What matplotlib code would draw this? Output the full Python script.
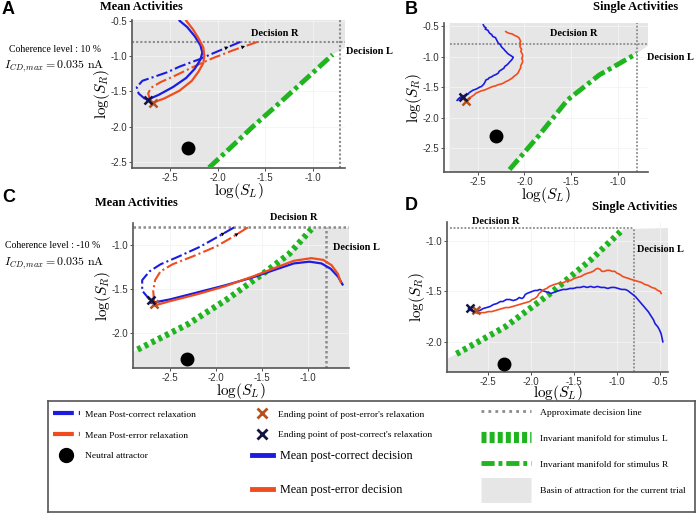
import matplotlib.pyplot as plt
from matplotlib.lines import Line2D
from matplotlib.ticker import FormatStrFormatter

plt.rcParams['font.family'] = ['Liberation Serif', 'DejaVu Serif']
plt.rcParams['mathtext.fontset'] = 'cm'
plt.rcParams['axes.unicode_minus'] = False

W, H = 700, 514

BLUE = '#1c1ce0'
RED = '#f04c1e'
GREEN = '#1fb51f'
BASIN = '#e6e6e6'
DOTGREY = '#8c8c8c'
BROWN_X = '#b4521f'
NAVY_X = '#141440'

# ---- panel A : mean activities, coherence 10 %
a_green = [(-2.09, -2.58), (-1.85, -2.28), (-1.63, -2.0), (-1.32, -1.63), (-1.05, -1.3), (-0.79, -0.98)]
a_correct = [(-2.74, -1.62), (-2.62, -1.55), (-2.47, -1.44), (-2.33, -1.31), (-2.24, -1.18), (-2.18, -1.05),
             (-2.16, -0.95), (-2.18, -0.85), (-2.24, -0.72), (-2.32, -0.59), (-2.4, -0.5)]
a_error = [(-2.7, -1.67), (-2.56, -1.6), (-2.4, -1.49), (-2.27, -1.35), (-2.2, -1.22), (-2.15, -1.1),
           (-2.14, -1.0), (-2.15, -0.88), (-2.2, -0.75), (-2.26, -0.62), (-2.33, -0.5)]
a_relax_correct = [(-1.76, -0.80), (-2.01, -0.94), (-2.2, -1.05), (-2.4, -1.15), (-2.53, -1.23), (-2.68, -1.3),
                   (-2.79, -1.35), (-2.85, -1.44), (-2.83, -1.53), (-2.77, -1.6), (-2.73, -1.62)]
a_relax_error = [(-1.58, -0.80), (-1.84, -0.92), (-2.05, -1.03), (-2.25, -1.15), (-2.45, -1.28), (-2.6, -1.37),
                 (-2.7, -1.45), (-2.73, -1.53), (-2.71, -1.62), (-2.68, -1.66)]
a_end_correct = (-2.73, -1.62)
a_end_error = (-2.68, -1.66)
a_neutral = (-2.31, -2.3)
a_decision_r = -0.8
a_decision_l = -0.71

# ---- panel B : single activities, coherence 10 %
b_green = [(-2.16, -2.85), (-1.85, -2.3), (-1.54, -1.71), (-1.2, -1.3), (-0.8, -0.95)]
b_correct = [(-2.44, -0.48), (-2.43, -0.51), (-2.41, -0.53), (-2.42, -0.55), (-2.39, -0.57), (-2.38, -0.60),
             (-2.37, -0.62), (-2.35, -0.64), (-2.34, -0.67), (-2.31, -0.69), (-2.30, -0.72), (-2.29, -0.75),
             (-2.28, -0.78), (-2.26, -0.80), (-2.25, -0.83), (-2.24, -0.85), (-2.22, -0.88), (-2.21, -0.90),
             (-2.19, -0.93), (-2.18, -0.95), (-2.16, -0.97), (-2.14, -0.99), (-2.12, -1.01), (-2.13, -1.04),
             (-2.14, -1.06), (-2.16, -1.09), (-2.17, -1.11), (-2.19, -1.14), (-2.21, -1.16), (-2.22, -1.19),
             (-2.24, -1.21), (-2.27, -1.24), (-2.28, -1.27), (-2.30, -1.29), (-2.33, -1.31), (-2.35, -1.33),
             (-2.38, -1.35), (-2.39, -1.37), (-2.41, -1.38), (-2.42, -1.41), (-2.43, -1.44), (-2.44, -1.46),
             (-2.46, -1.49), (-2.48, -1.50), (-2.50, -1.52), (-2.53, -1.54), (-2.55, -1.55), (-2.57, -1.57),
             (-2.59, -1.59), (-2.60, -1.61), (-2.63, -1.63), (-2.65, -1.64), (-2.66, -1.66), (-2.69, -1.67),
             (-2.71, -1.70), (-2.72, -1.72), (-2.70, -1.69), (-2.68, -1.67)]
b_error = [(-2.20, -0.59), (-2.18, -0.61), (-2.16, -0.62), (-2.13, -0.63), (-2.11, -0.65), (-2.08, -0.67),
           (-2.06, -0.69), (-2.05, -0.72), (-2.04, -0.75), (-2.05, -0.77), (-2.04, -0.80), (-2.05, -0.83),
           (-2.04, -0.86), (-2.03, -0.88), (-2.04, -0.91), (-2.03, -0.94), (-2.02, -0.97), (-2.02, -1.00),
           (-2.03, -1.03), (-2.02, -1.06), (-2.02, -1.09), (-2.03, -1.12), (-2.04, -1.15), (-2.04, -1.18),
           (-2.05, -1.21), (-2.06, -1.24), (-2.07, -1.27), (-2.09, -1.30), (-2.11, -1.32), (-2.13, -1.35),
           (-2.15, -1.37), (-2.17, -1.39), (-2.20, -1.41), (-2.22, -1.43), (-2.25, -1.45), (-2.28, -1.46),
           (-2.31, -1.48), (-2.34, -1.49), (-2.37, -1.51), (-2.40, -1.53), (-2.43, -1.55), (-2.46, -1.56),
           (-2.49, -1.58), (-2.52, -1.60), (-2.54, -1.63), (-2.56, -1.65), (-2.58, -1.67), (-2.60, -1.69),
           (-2.61, -1.72), (-2.63, -1.74)]
b_end_correct = (-2.66, -1.66)
b_end_error = (-2.62, -1.72)
b_neutral = (-2.3, -2.3)
b_decision_r = -0.8
b_decision_l = -0.8

# ---- panel C : mean activities, coherence -10 %
c_green = [(-2.85, -2.19), (-2.3, -1.9), (-1.88, -1.62), (-1.45, -1.3), (-1.2, -1.1), (-0.96, -0.82)]
c_correct = [(-2.7, -1.66), (-2.5, -1.62), (-2.2, -1.54), (-1.9, -1.46), (-1.6, -1.37), (-1.35, -1.28),
             (-1.15, -1.21), (-0.98, -1.19), (-0.85, -1.21), (-0.75, -1.27), (-0.67, -1.36), (-0.62, -1.45)]
c_error = [(-2.67, -1.69), (-2.5, -1.64), (-2.2, -1.56), (-1.9, -1.47), (-1.6, -1.36), (-1.35, -1.26),
           (-1.15, -1.18), (-0.96, -1.15), (-0.83, -1.17), (-0.74, -1.23), (-0.67, -1.33), (-0.64, -1.42)]
c_relax_correct = [(-1.8, -0.8), (-2.0, -0.92), (-2.17, -1.02), (-2.4, -1.13), (-2.6, -1.22), (-2.72, -1.3),
                   (-2.8, -1.4), (-2.8, -1.52), (-2.72, -1.62)]
c_relax_error = [(-1.65, -0.8), (-1.85, -0.93), (-2.0, -1.02), (-2.25, -1.13), (-2.47, -1.22), (-2.6, -1.3),
                 (-2.66, -1.4), (-2.68, -1.52), (-2.67, -1.66)]
c_end_correct = (-2.7, -1.63)
c_end_error = (-2.67, -1.67)
c_neutral = (-2.31, -2.3)
c_decision_r = -0.8
c_decision_l = -0.8

# ---- panel D : single activities, coherence -10 %
d_green = [(-2.87, -2.12), (-2.3, -1.85), (-1.78, -1.52), (-1.3, -1.18), (-0.93, -0.88)]
d_correct = [(-2.73, -1.67), (-2.70, -1.69), (-2.67, -1.70), (-2.63, -1.69), (-2.60, -1.69), (-2.56, -1.67),
             (-2.52, -1.66), (-2.48, -1.65), (-2.44, -1.63), (-2.40, -1.62), (-2.36, -1.60), (-2.33, -1.60),
             (-2.29, -1.58), (-2.25, -1.58), (-2.21, -1.59), (-2.17, -1.58), (-2.14, -1.56), (-2.11, -1.57),
             (-2.09, -1.56), (-2.07, -1.53), (-2.05, -1.52), (-2.02, -1.51), (-1.99, -1.50), (-1.96, -1.49),
             (-1.93, -1.49), (-1.90, -1.48), (-1.87, -1.49), (-1.84, -1.50), (-1.80, -1.51), (-1.77, -1.52),
             (-1.74, -1.51), (-1.71, -1.50), (-1.67, -1.49), (-1.63, -1.48), (-1.59, -1.48), (-1.55, -1.47),
             (-1.51, -1.47), (-1.47, -1.46), (-1.43, -1.46), (-1.39, -1.45), (-1.35, -1.46), (-1.31, -1.45),
             (-1.27, -1.46), (-1.23, -1.45), (-1.19, -1.46), (-1.15, -1.46), (-1.11, -1.47), (-1.07, -1.46),
             (-1.03, -1.46), (-0.99, -1.47), (-0.95, -1.48), (-0.91, -1.48), (-0.88, -1.49), (-0.85, -1.51),
             (-0.82, -1.53), (-0.79, -1.55), (-0.76, -1.58), (-0.73, -1.61), (-0.70, -1.64), (-0.67, -1.67),
             (-0.64, -1.70), (-0.61, -1.74), (-0.58, -1.78), (-0.56, -1.82), (-0.53, -1.85), (-0.51, -1.88),
             (-0.49, -1.92), (-0.48, -1.96), (-0.47, -2.00)]
d_error = [(-2.68, -1.69), (-2.65, -1.71), (-2.62, -1.72), (-2.58, -1.71), (-2.54, -1.71), (-2.50, -1.70),
           (-2.46, -1.70), (-2.42, -1.69), (-2.38, -1.68), (-2.34, -1.67), (-2.30, -1.66), (-2.26, -1.66),
           (-2.22, -1.65), (-2.18, -1.64), (-2.14, -1.63), (-2.10, -1.62), (-2.06, -1.61), (-2.02, -1.60),
           (-1.99, -1.58), (-1.96, -1.57), (-1.93, -1.55), (-1.91, -1.52), (-1.88, -1.50), (-1.85, -1.48),
           (-1.82, -1.47), (-1.79, -1.45), (-1.76, -1.44), (-1.73, -1.43), (-1.69, -1.42), (-1.66, -1.42),
           (-1.62, -1.41), (-1.58, -1.39), (-1.54, -1.39), (-1.50, -1.37), (-1.46, -1.36), (-1.42, -1.35),
           (-1.38, -1.33), (-1.35, -1.32), (-1.31, -1.31), (-1.28, -1.30), (-1.25, -1.28), (-1.23, -1.27),
           (-1.20, -1.28), (-1.18, -1.30), (-1.15, -1.30), (-1.12, -1.29), (-1.09, -1.29), (-1.06, -1.30),
           (-1.03, -1.30), (-1.00, -1.32), (-0.97, -1.33), (-0.94, -1.35), (-0.91, -1.36), (-0.87, -1.37),
           (-0.84, -1.38), (-0.80, -1.39), (-0.76, -1.40), (-0.72, -1.41), (-0.68, -1.43), (-0.64, -1.44),
           (-0.60, -1.46), (-0.56, -1.47), (-0.53, -1.49), (-0.50, -1.50), (-0.49, -1.52)]
d_end_correct = (-2.71, -1.66)
d_end_error = (-2.64, -1.68)
d_neutral = (-2.32, -2.22)
d_decision_r = -0.87
d_decision_l = -0.8

xticks_a = [-2.5, -2.0, -1.5, -1.0]
yticks_a = [-2.5, -2.0, -1.5, -1.0, -0.5]
yticks_c = [-2.0, -1.5, -1.0]
xticks_d = [-2.5, -2.0, -1.5, -1.0, -0.5]

coherence_a = 'Coherence level : 10 %'
coherence_c = 'Coherence level : -10 %'
current_label = r'$I_{CD,max} = 0.035\ \mathrm{nA}$'


def xy(points):
    return [p[0] for p in points], [p[1] for p in points]


def box(l, t, r, b):
    return [l / W, 1 - b / H, (r - l) / W, (b - t) / H]


def ftext(x, y, s, **kw):
    fig.text(x / W, 1 - y / H, s, va='center', **kw)


def style(ax, xlim, ylim, xt, yt):
    ax.set_xlim(xlim)
    ax.set_ylim(ylim)
    ax.set_xticks(xt)
    ax.set_yticks(yt)
    ax.xaxis.set_major_formatter(FormatStrFormatter('%.1f'))
    ax.yaxis.set_major_formatter(FormatStrFormatter('%.1f'))
    for lab in ax.get_xticklabels() + ax.get_yticklabels():
        lab.set_family(['Liberation Sans', 'DejaVu Sans'])
    ax.tick_params(labelsize=7, length=2, width=0.6, pad=1.5, colors='#333333')
    for s in ['top', 'right']:
        ax.spines[s].set_visible(False)
    for s in ['left', 'bottom']:
        ax.spines[s].set_color('#555555')
        ax.spines[s].set_linewidth(1.2)
    ax.grid(True, color='#f4f4f4', lw=0.6)
    ax.set_xlabel(r'$\log(S_L)$', fontsize=11, labelpad=-1)
    ax.set_ylabel(r'$\log(S_R)$', fontsize=11, labelpad=-1)


def green_dashdot(ax, pts):
    gx, gy = xy(pts)
    ax.plot(gx, gy, color=GREEN, lw=3.5, dashes=(2.7, 0.8, 0.8, 0.8), zorder=3)


def green_dotted(ax, pts):
    gx, gy = xy(pts)
    ax.plot(gx, gy, color=GREEN, lw=4.5, dashes=(0.62, 0.62), solid_capstyle='butt',
            dash_capstyle='butt', zorder=3)


def decision_lines(ax, yr, xl, x0, x1, y0, y1, lw=1.5):
    ax.plot([x0, x1], [yr, yr], color=DOTGREY, lw=lw, ls=(0, (1, 1)), zorder=2.5)
    ax.plot([xl, xl], [y0, y1], color=DOTGREY, lw=lw, ls=(0, (1, 1)), zorder=2.5)


def relax(ax, pts, color):
    rx, ry = xy(pts)
    ax.plot(rx, ry, color=color, lw=1.5, dashes=(5.5, 1.5, 1, 1.5), zorder=4)
    mid = ((rx[0] + rx[1]) / 2, (ry[0] + ry[1]) / 2)
    ax.annotate('', xy=mid, xytext=(rx[1], ry[1]),
                arrowprops=dict(arrowstyle='-|>', color='k', lw=0, mutation_scale=7,
                                shrinkA=0, shrinkB=0), zorder=6)


def markers(ax, end_correct, end_error, neutral):
    ax.plot(*neutral, 'o', color='k', ms=9, zorder=6)
    ax.plot(*end_error, 'x', color=BROWN_X, ms=6, mew=1.8, zorder=7)
    ax.plot(*end_correct, 'x', color=NAVY_X, ms=6, mew=1.8, zorder=7)


fig = plt.figure(figsize=(W / 100, H / 100), dpi=100)

# ---------- A
ax = fig.add_axes(box(132, 20, 345, 168))
xl, yl = (-2.9, -0.66), (-2.585, -0.49)
gx, gy = xy(a_green)
ax.fill([gx[0], xl[0], xl[0], xl[1], xl[1]] + gx[::-1],
        [yl[0], yl[0], yl[1], yl[1], -0.88] + gy[::-1], color=BASIN, lw=0, zorder=1)
style(ax, xl, yl, xticks_a, yticks_a)
decision_lines(ax, a_decision_r, a_decision_l, xl[0], xl[1], yl[0], yl[1])
green_dashdot(ax, a_green)
relax(ax, a_relax_correct, BLUE)
relax(ax, a_relax_error, RED)
ax.plot(*xy(a_correct), color=BLUE, lw=1.6, zorder=5)
ax.plot(*xy(a_error), color=RED, lw=1.6, zorder=5)
markers(ax, a_end_correct, a_end_error, a_neutral)

# ---------- B
ax = fig.add_axes(box(444, 23, 648, 172))
xl, yl = (-2.86, -0.68), (-2.89, -0.45)
gx, gy = xy(b_green)
ax.fill([gx[0], -2.8, -2.8, xl[1], xl[1]] + gx[::-1],
        [yl[0], yl[0], yl[1], yl[1], -0.82] + gy[::-1], color=BASIN, lw=0, zorder=1)
style(ax, xl, yl, xticks_a, yticks_a)
decision_lines(ax, b_decision_r, b_decision_l, -2.8, xl[1], yl[0], yl[1], lw=1.3)
green_dashdot(ax, b_green)
ax.plot(*xy(b_correct), color=BLUE, lw=1.2, zorder=5)
ax.plot(*xy(b_error), color=RED, lw=1.2, zorder=5)
markers(ax, b_end_correct, b_end_error, b_neutral)

# ---------- C
ax = fig.add_axes(box(133, 223, 349, 368))
xl, yl = (-2.9, -0.55), (-2.4, -0.75)
gx, gy = xy(c_green)
ax.fill([xl[0], xl[0]] + gx + [xl[1], xl[1]],
        [yl[0], gy[0] - 0.03] + gy[:-1] + [-0.8, -0.8, yl[0]], color=BASIN, lw=0, zorder=1)
style(ax, xl, yl, xticks_a, yticks_c)
decision_lines(ax, c_decision_r, c_decision_l, xl[0], xl[1], yl[0], -0.8, lw=1.8)
green_dotted(ax, c_green)
relax(ax, c_relax_correct, BLUE)
relax(ax, c_relax_error, RED)
ax.plot(*xy(c_correct), color=BLUE, lw=1.6, zorder=5)
ax.plot(*xy(c_error), color=RED, lw=1.6, zorder=5)
markers(ax, c_end_correct, c_end_error, c_neutral)

# ---------- D
ax = fig.add_axes(box(447, 222, 668, 372))
xl, yl = (-2.98, -0.41), (-2.3, -0.81)
gx, gy = xy(d_green)
ax.fill([xl[0], xl[0]] + gx + [xl[1], xl[1]],
        [yl[0], gy[0] - 0.05] + gy + [d_decision_r, yl[0]], color=BASIN, lw=0, zorder=1)
style(ax, xl, yl, xticks_d, yticks_c)
decision_lines(ax, d_decision_r, d_decision_l, -2.95, -0.82, yl[0], d_decision_r, lw=1.3)
green_dotted(ax, d_green)
ax.plot(*xy(d_correct), color=BLUE, lw=1.2, zorder=5)
ax.plot(*xy(d_error), color=RED, lw=1.2, zorder=5)
markers(ax, d_end_correct, d_end_error, d_neutral)
ax.xaxis.labelpad = -3

# ---------- texts
sans_bold = dict(family=['Liberation Sans', 'DejaVu Sans'], weight='bold', fontsize=13)
title = dict(weight='bold', fontsize=9)
dec = dict(weight='bold', fontsize=7.5)
ftext(2, 10, 'A', **sans_bold)
ftext(405, 10, 'B', **sans_bold)
ftext(2, 198, 'C', **sans_bold)
ftext(405, 205, 'D', **sans_bold)
ftext(100, 7, 'Mean Activities', **title)
ftext(593, 7, 'Single Activities', **title)
ftext(95, 203, 'Mean Activities', **title)
ftext(592, 207, 'Single Activities', **title)
ftext(55, 50, coherence_a, fontsize=7, ha='center')
ftext(54, 66, current_label, fontsize=8.6, ha='center')
ftext(53, 245, coherence_c, fontsize=7, ha='center')
ftext(54, 263, current_label, fontsize=8.6, ha='center')
ftext(251, 33, 'Decision R', **dec)
ftext(346, 51, 'Decision L', **dec)
ftext(550, 33, 'Decision R', **dec)
ftext(647, 57, 'Decision L', **dec)
ftext(270, 217, 'Decision R', **dec)
ftext(333, 247, 'Decision L', **dec)
ftext(472, 222, 'Decision R', **dec)
ftext(637, 250, 'Decision L', **dec)

# ---------- legend box
lax = fig.add_axes(box(48, 401, 695, 512))
lax.set_xticks([])
lax.set_yticks([])
for s in lax.spines.values():
    s.set_color('#555555')
    s.set_linewidth(1.2)


def ax_pos(px, py):
    return ((px - 48) / 647, (512 - py) / 111)


h1 = [Line2D([], [], color=BLUE, lw=3, dashes=(5, 1.2, 0.8, 1.2)),
      Line2D([], [], color=RED, lw=3, dashes=(5, 1.2, 0.8, 1.2)),
      Line2D([], [], ls='none', marker='o', color='k', ms=10)]
l1 = ['Mean Post-correct relaxation', 'Mean Post-error relaxation', 'Neutral attractor']
leg1 = lax.legend(h1, l1, loc='upper left', bbox_to_anchor=ax_pos(53, 410), frameon=False,
                  fontsize=6.8, handlelength=2.85, handletextpad=0.53, labelspacing=1.3,
                  borderpad=0, borderaxespad=0)
lax.add_artist(leg1)

h2 = [Line2D([], [], ls='none', marker='x', color=BROWN_X, ms=7, mew=2),
      Line2D([], [], ls='none', marker='x', color=NAVY_X, ms=7, mew=2)]
l2 = ["Ending point of post-error's relaxation", "Ending point of post-correct's relaxation"]
leg2 = lax.legend(h2, l2, loc='upper left', bbox_to_anchor=ax_pos(252, 410), frameon=False,
                  fontsize=6.8, handlelength=2.2, handletextpad=0.53, labelspacing=1.27,
                  borderpad=0, borderaxespad=0)
lax.add_artist(leg2)

h3 = [Line2D([], [], color=BLUE, lw=3.5), Line2D([], [], color=RED, lw=3.5)]
l3 = ['Mean post-correct decision', 'Mean post-error decision']
leg3 = lax.legend(h3, l3, loc='upper left', bbox_to_anchor=ax_pos(252, 450), frameon=False,
                  fontsize=8.7, handlelength=1.74, handletextpad=0.58, labelspacing=1.83,
                  borderpad=0, borderaxespad=0)
lax.add_artist(leg3)

h4 = [Line2D([], [], color=DOTGREY, lw=2, ls=(0, (1, 1.5))),
      Line2D([], [], color=GREEN, lw=8, dashes=(0.45, 0.28)),
      Line2D([], [], color=GREEN, lw=3.5, dashes=(2.7, 0.8, 0.8, 0.8)),
      Line2D([], [], color=BASIN, lw=18, solid_capstyle='butt')]
l4 = ['Approximate decision line', 'Invariant manifold for stimulus L',
      'Invariant manifold for stimulus R', 'Basin of attraction for the current trial']
lax.legend(h4, l4, loc='upper left', bbox_to_anchor=ax_pos(481, 408), frameon=False,
           fontsize=6.8, handlelength=5.3, handletextpad=0.95, labelspacing=1.85,
           borderpad=0, borderaxespad=0)

fig.savefig('out.png', dpi=100)
